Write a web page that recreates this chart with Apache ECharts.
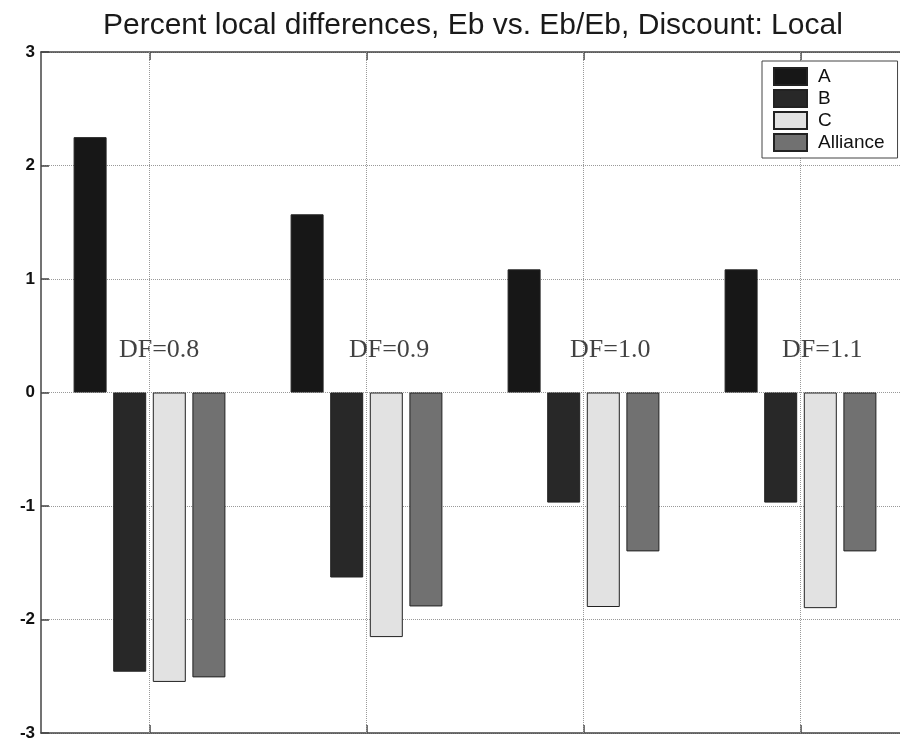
<!DOCTYPE html>
<html>
<head>
<meta charset="utf-8">
<script src="https://cdn.jsdelivr.net/npm/echarts@6/dist/echarts.min.js"></script>
<style>html,body{margin:0;padding:0;background:#fff}#c{width:900px;height:740px}</style>
</head>
<body>
<div id="c"></div>
<script>
const titleText = 'Percent local differences, Eb vs. Eb/Eb, Discount: Local';
const categories = ['DF=0.8', 'DF=0.9', 'DF=1.0', 'DF=1.1'];
const seriesNames = ['A', 'B', 'C', 'Alliance'];
const valuesA = [2.25, 1.57, 1.085, 1.085];
const valuesB = [-2.46, -1.63, -0.97, -0.97];
const valuesC = [-2.55, -2.155, -1.89, -1.90];
const valuesAlliance = [-2.51, -1.885, -1.40, -1.40];
const yTicks = [-3, -2, -1, 0, 1, 2, 3];
// category centres on the hidden value axis (1..4)
const groupX = [1, 2, 3, 4];
// annotation positions (x in category units, y in data units)
const labelX = [0.859, 1.919, 2.938, 3.915];
const labelY = [0.37, 0.37, 0.37, 0.37];

const seriesValues = [valuesA, valuesB, valuesC, valuesAlliance];
const colors = ['#171717', '#282828', '#e2e2e2', '#717171'];

const chart = echarts.init(document.getElementById('c'), null, {renderer: 'canvas'});

const barSeries = seriesNames.map((name, i) => ({
  name: name,
  type: 'bar',
  xAxisIndex: 0,
  yAxisIndex: 0,
  data: seriesValues[i],
  barWidth: 33,
  barGap: '20%',
  itemStyle: {color: colors[i], borderColor: '#222', borderWidth: 1},
  z: 3
}));

const option = {
  backgroundColor: '#fff',
  animation: false,
  title: {
    text: titleText,
    left: 103,
    top: 11,
    padding: 0,
    textStyle: {fontFamily: 'Liberation Sans', fontSize: 30, fontWeight: 'normal', color: '#1a1a1a'}
  },
  legend: {
    data: seriesNames,
    orient: 'vertical',
    left: 762,
    top: 61,
    padding: [6, 13, 6, 11],
    itemWidth: 33,
    itemHeight: 17,
    itemGap: 3,
    backgroundColor: '#fff',
    borderColor: '#444',
    borderWidth: 1,
    borderRadius: 0,
    icon: 'rect',
    textStyle: {fontFamily: 'Liberation Sans', fontSize: 19, color: '#111', padding: [0, 0, 0, 6]}
  },
  grid: {left: 41, top: 52, width: 868, bottom: 7, containLabel: false, outerBoundsMode: 'none'},
  xAxis: [
    {
      type: 'category', data: categories, position: 'bottom',
      axisLine: {show: true, onZero: false, lineStyle: {color: '#444', width: 1.5}},
      axisTick: {show: true, inside: true, alignWithLabel: true, length: 8, lineStyle: {color: '#444', width: 1.5}},
      axisLabel: {show: false}, splitLine: {show: false}
    },
    {
      type: 'category', data: categories, position: 'top',
      axisLine: {show: true, onZero: false, lineStyle: {color: '#444', width: 1.5}},
      axisTick: {show: true, inside: true, alignWithLabel: true, length: 8, lineStyle: {color: '#444', width: 1.5}},
      axisLabel: {show: false}, splitLine: {show: false}
    },
    {
      type: 'value', min: 0.5, max: 4.5, show: false
    }
  ],
  yAxis: {
    type: 'value', min: yTicks[0], max: yTicks[yTicks.length - 1], interval: 1,
    axisLine: {show: true, onZero: false, lineStyle: {color: '#444', width: 1.5}},
    axisTick: {show: true, inside: true, length: 8, lineStyle: {color: '#444', width: 1.5}},
    axisLabel: {margin: 6, fontFamily: 'Liberation Sans', fontSize: 17, fontWeight: 'bold', color: '#111'},
    splitLine: {show: true, lineStyle: {type: 'dotted', color: '#999', width: 1}}
  },
  series: barSeries.concat([{
    type: 'scatter',
    xAxisIndex: 2,
    yAxisIndex: 0,
    symbolSize: 0,
    silent: true,
    z: 5,
    data: categories.map((c, i) => ({value: [labelX[i], labelY[i]], name: c})),
    label: {
      show: true, position: 'right', distance: 0,
      formatter: p => p.name,
      fontFamily: 'Liberation Serif', fontSize: 26, color: '#111'
    },
    markLine: {
      silent: true,
      symbol: 'none',
      label: {show: false},
      lineStyle: {type: 'dotted', color: '#999', width: 1},
      z: 1,
      data: groupX.map(x => ({xAxis: x}))
    }
  }])
};
chart.setOption(option);
</script>
</body>
</html>
